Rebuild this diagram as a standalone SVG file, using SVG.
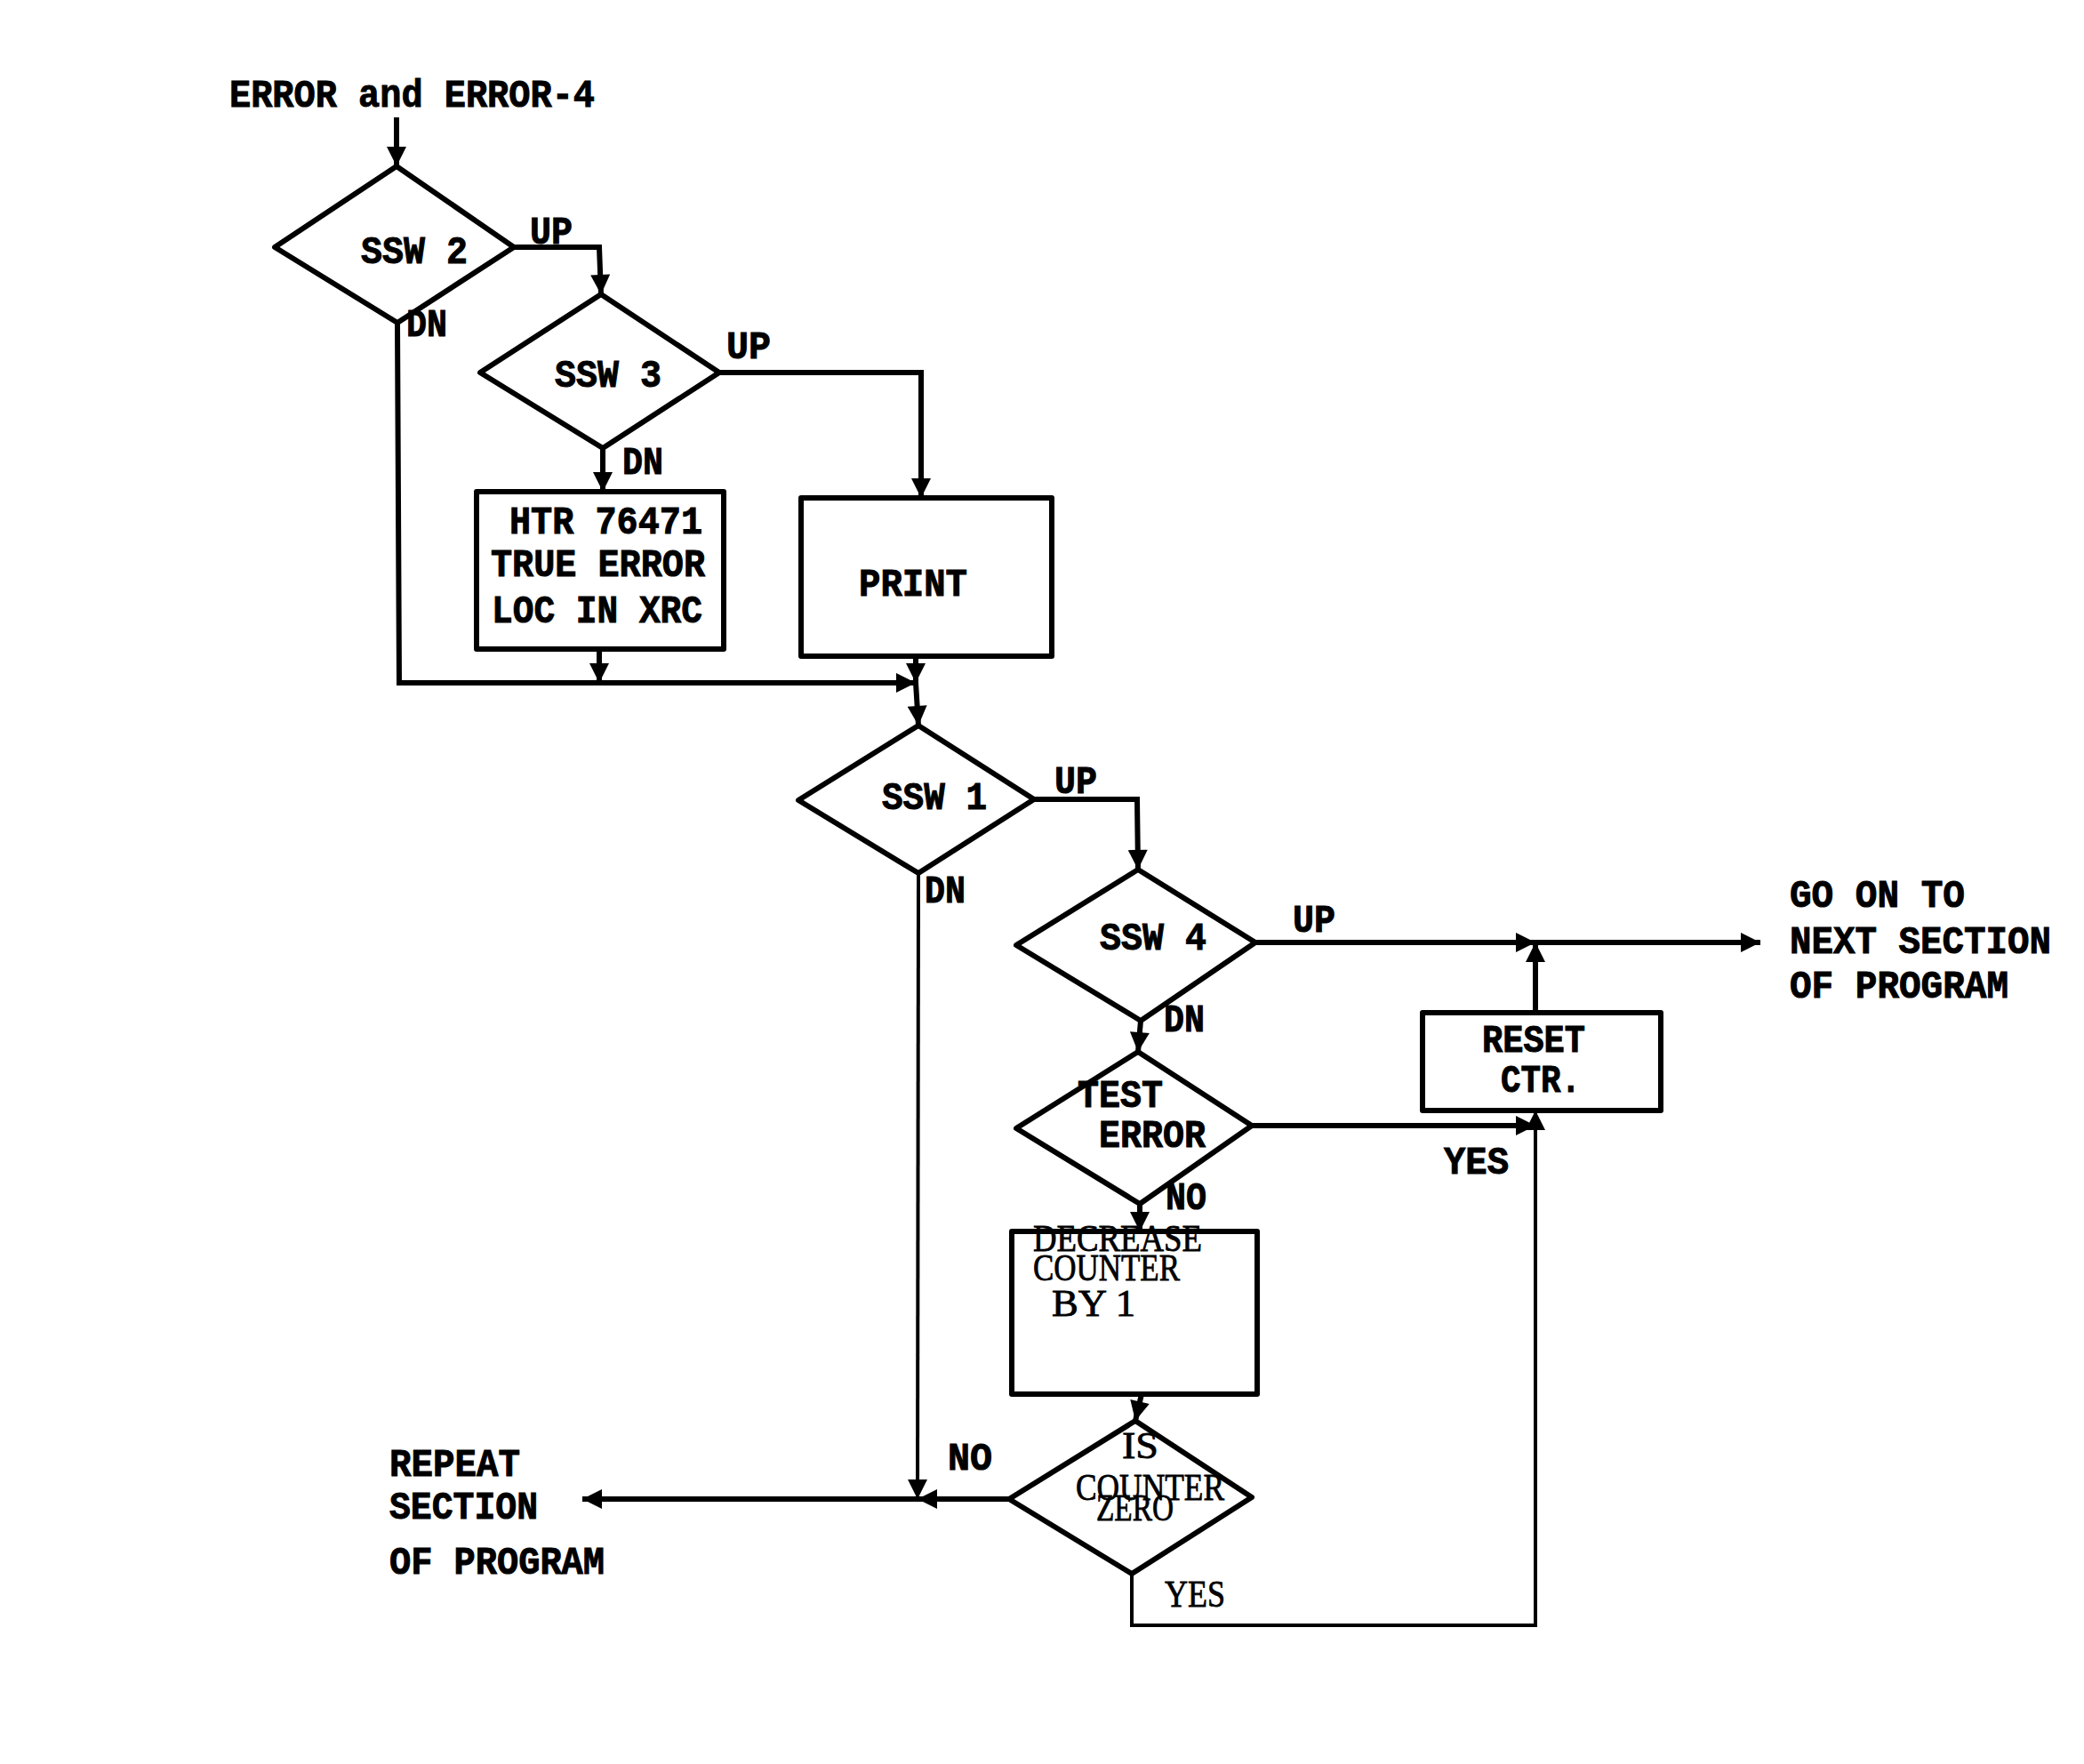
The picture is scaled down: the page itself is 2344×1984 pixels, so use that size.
<svg xmlns="http://www.w3.org/2000/svg" width="2344" height="1984" viewBox="0 0 2344 1984">
<style>
.bg{fill:#ffffff}
.shape{fill:none;stroke:#000;stroke-width:6;stroke-linejoin:round}
.c{fill:none;stroke:#000;stroke-width:6;stroke-linejoin:miter}
.ct{fill:none;stroke:#000;stroke-width:4;stroke-linejoin:miter}
.t{font-family:"Liberation Mono","DejaVu Sans Mono",monospace;font-weight:bold;font-size:45px;fill:#000;stroke:#000;stroke-width:1}
.l{font-family:"Liberation Serif","DejaVu Serif",serif;font-weight:normal;font-size:42px;fill:#000;stroke:#000;stroke-width:0.8}
</style>
<defs>
<marker id="ah" viewBox="0 0 10 10" refX="10" refY="5" markerWidth="24" markerHeight="22" markerUnits="userSpaceOnUse" orient="auto">
<path d="M0,0 L10,5 L0,10 Z" fill="#000"/>
</marker>
</defs>
<rect class="bg" x="0" y="0" width="2344" height="1984"/>

<g id="connectors">
<path class="c" d="M446,132 L446,187" marker-end="url(#ah)"/>
<path class="c" d="M578,278 L674,278 L676,331" marker-end="url(#ah)"/>
<path class="c" d="M447,363 L449,768 L1030,768" marker-end="url(#ah)"/>
<path class="c" d="M809,419 L1036,419 L1036,560" marker-end="url(#ah)"/>
<path class="c" d="M678,504 L678,553" marker-end="url(#ah)"/>
<path class="c" d="M674,730 L674,768" marker-end="url(#ah)"/>
<path class="c" d="M1030,738 L1030,768" marker-end="url(#ah)"/>
<path class="c" d="M1030,768 L1033,816" marker-end="url(#ah)"/>
<path class="c" d="M1163,899 L1279,899 L1280,978" marker-end="url(#ah)"/>
<path class="ct" d="M1033,982 L1032,1686" marker-end="url(#ah)"/>
<path class="c" d="M1412,1060 L1727,1060" marker-end="url(#ah)"/>
<path class="c" d="M1727,1060 L1980,1060" marker-end="url(#ah)"/>
<path class="c" d="M1727,1139 L1727,1060" marker-end="url(#ah)"/>
<path class="c" d="M1283,1148 L1280,1183" marker-end="url(#ah)"/>
<path class="c" d="M1408,1266 L1727,1266" marker-end="url(#ah)"/>
<path class="c" d="M1282,1354 L1282,1385" marker-end="url(#ah)"/>
<path class="c" d="M1284,1568 L1277,1598" marker-end="url(#ah)"/>
<path class="c" d="M1135,1686 L1032,1686" marker-end="url(#ah)"/>
<path class="c" d="M1032,1686 L655,1686" marker-end="url(#ah)"/>
<path class="ct" d="M1273,1770 L1273,1828 L1727,1828 L1727,1249" marker-end="url(#ah)"/>
</g>

<g id="title">
<text class="t" x="258" y="120" textLength="411" lengthAdjust="spacingAndGlyphs">ERROR and ERROR-4</text>
</g>

<g id="ssw2">
<polygon class="shape" points="446,187 578,278 447,363 309,278"/>
<text class="t" x="406" y="296" textLength="120" lengthAdjust="spacingAndGlyphs">SSW 2</text>
<text class="t" x="596" y="274" textLength="48" lengthAdjust="spacingAndGlyphs">UP</text>
<text class="t" x="457" y="378" textLength="46" lengthAdjust="spacingAndGlyphs">DN</text>
</g>

<g id="ssw3">
<polygon class="shape" points="676,331 809,419 678,504 540,419"/>
<text class="t" x="624" y="435" textLength="120" lengthAdjust="spacingAndGlyphs">SSW 3</text>
<text class="t" x="817" y="403" textLength="50" lengthAdjust="spacingAndGlyphs">UP</text>
<text class="t" x="700" y="533" textLength="46" lengthAdjust="spacingAndGlyphs">DN</text>
</g>

<g id="htr">
<rect class="shape" x="536" y="553" width="278" height="177"/>
<text class="t" x="573" y="600" textLength="217" lengthAdjust="spacingAndGlyphs">HTR 76471</text>
<text class="t" x="552" y="648" textLength="241" lengthAdjust="spacingAndGlyphs">TRUE ERROR</text>
<text class="t" x="553" y="700" textLength="237" lengthAdjust="spacingAndGlyphs">LOC IN XRC</text>
</g>

<g id="print">
<rect class="shape" x="901" y="560" width="282" height="178"/>
<text class="t" x="966" y="670" textLength="122" lengthAdjust="spacingAndGlyphs">PRINT</text>
</g>

<g id="ssw1">
<polygon class="shape" points="1033,816 1163,899 1033,982 898,900"/>
<text class="t" x="992" y="910" textLength="118" lengthAdjust="spacingAndGlyphs">SSW 1</text>
<text class="t" x="1186" y="892" textLength="48" lengthAdjust="spacingAndGlyphs">UP</text>
<text class="t" x="1040" y="1015" textLength="46" lengthAdjust="spacingAndGlyphs">DN</text>
</g>

<g id="ssw4">
<polygon class="shape" points="1280,978 1412,1060 1283,1148 1143,1063"/>
<text class="t" x="1237" y="1068" textLength="120" lengthAdjust="spacingAndGlyphs">SSW 4</text>
<text class="t" x="1454" y="1048" textLength="48" lengthAdjust="spacingAndGlyphs">UP</text>
<text class="t" x="1309" y="1160" textLength="46" lengthAdjust="spacingAndGlyphs">DN</text>
</g>

<g id="next">
<text class="t" x="2013" y="1020" textLength="197" lengthAdjust="spacingAndGlyphs">GO ON TO</text>
<text class="t" x="2013" y="1072" textLength="294" lengthAdjust="spacingAndGlyphs">NEXT SECTION</text>
<text class="t" x="2013" y="1122" textLength="246" lengthAdjust="spacingAndGlyphs">OF PROGRAM</text>
</g>

<g id="reset">
<rect class="shape" x="1600" y="1139" width="268" height="110"/>
<text class="t" x="1667" y="1183" textLength="116" lengthAdjust="spacingAndGlyphs">RESET</text>
<text class="t" x="1688" y="1228" textLength="90" lengthAdjust="spacingAndGlyphs">CTR.</text>
</g>

<g id="testerror">
<polygon class="shape" points="1280,1183 1408,1266 1282,1354 1143,1269"/>
<text class="t" x="1212" y="1245" textLength="96" lengthAdjust="spacingAndGlyphs">TEST</text>
<text class="t" x="1236" y="1290" textLength="120" lengthAdjust="spacingAndGlyphs">ERROR</text>
<text class="t" x="1624" y="1320" textLength="73" lengthAdjust="spacingAndGlyphs">YES</text>
<text class="t" x="1311" y="1360" textLength="46" lengthAdjust="spacingAndGlyphs">NO</text>
</g>

<g id="decrease">
<rect class="shape" x="1138" y="1385" width="276" height="183"/>
<text class="l" x="1162" y="1407" textLength="190" lengthAdjust="spacingAndGlyphs">DECREASE</text>
<text class="l" x="1162" y="1440" textLength="165" lengthAdjust="spacingAndGlyphs">COUNTER</text>
<text class="l" x="1183" y="1480" textLength="94" lengthAdjust="spacingAndGlyphs">BY 1</text>
</g>

<g id="iszero">
<polygon class="shape" points="1277,1598 1408,1684 1273,1770 1135,1686"/>
<text class="l" x="1262" y="1640" textLength="41" lengthAdjust="spacingAndGlyphs">IS</text>
<text class="l" x="1210" y="1687" textLength="167" lengthAdjust="spacingAndGlyphs">COUNTER</text>
<text class="l" x="1233" y="1710" textLength="87" lengthAdjust="spacingAndGlyphs">ZERO</text>
<text class="l" x="1310" y="1807" textLength="68" lengthAdjust="spacingAndGlyphs">YES</text>
<text class="t" x="1066" y="1653" textLength="50" lengthAdjust="spacingAndGlyphs">NO</text>
</g>

<g id="repeat">
<text class="t" x="438" y="1660" textLength="147" lengthAdjust="spacingAndGlyphs">REPEAT</text>
<text class="t" x="438" y="1708" textLength="167" lengthAdjust="spacingAndGlyphs">SECTION</text>
<text class="t" x="438" y="1770" textLength="242" lengthAdjust="spacingAndGlyphs">OF PROGRAM</text>
</g>
</svg>
